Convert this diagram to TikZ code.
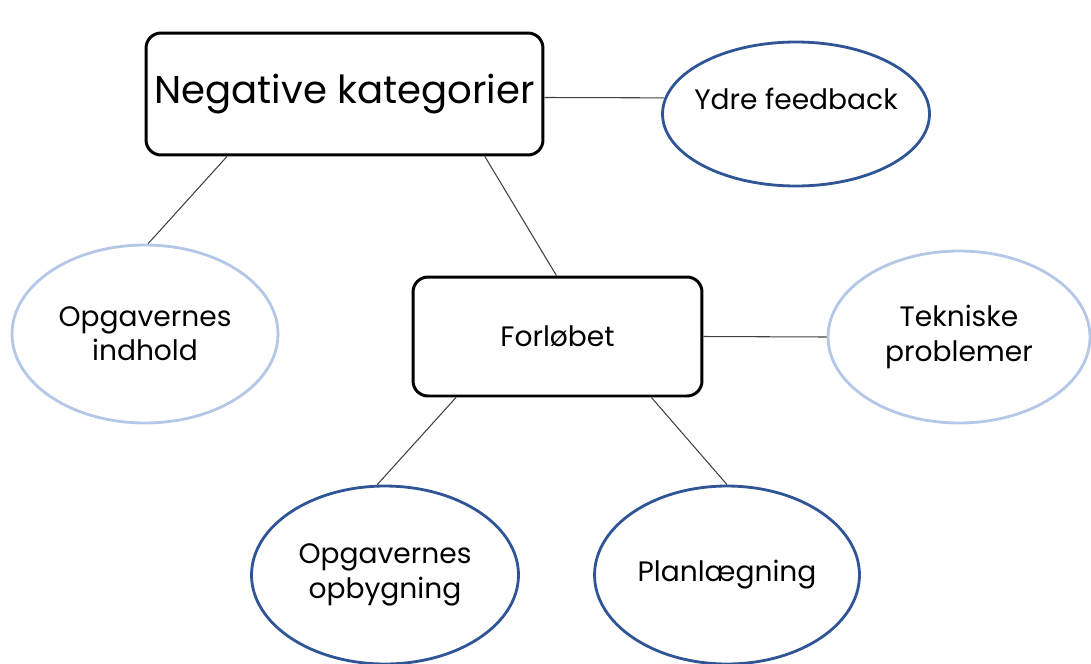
\documentclass[tikz,border=0pt]{standalone}
\usepackage{fontspec}
\setmainfont{Poppins}
\usepackage{tikz}
\usetikzlibrary{shapes.geometric}

\definecolor{darkblue}{HTML}{2F5597}
\definecolor{lightblue}{HTML}{B4C7E7}
\definecolor{linegray}{HTML}{404040}

\begin{document}
\begin{tikzpicture}[
        x=0.02cm, y=-0.02cm,          % pixel-like units, y downwards
        every node/.style={
            inner sep=0pt,
            align=center,
            font=\fontsize{16}{19.5}\selectfont
        },
        box/.style={rectangle, rounded corners=0.3cm, draw=black, line width=1.7pt},
        oval/.style={ellipse, draw=darkblue, line width=1.6pt, inner xsep=-1cm, inner ysep=-0.3cm},
        paleoval/.style={oval, draw=lightblue},
        link/.style={draw=linegray, line width=0.6pt}
    ]
        \useasboundingbox (0,0) rectangle (1091,663);

        % boxes
        \node[box, minimum width=7.94cm, minimum height=2.44cm,
              font=\fontsize{22}{26}\selectfont] (neg) at (344.5,94) {Negative kategorier};
        \node[box, minimum width=5.78cm, minimum height=2.38cm] (forlob) at (557.5,336.5) {Forløbet};

        % ovals
        \node[oval, minimum width=5.34cm, minimum height=2.88cm, text depth=0.6cm] (ydre) at (796,114) {Ydre feedback};
        \node[paleoval, minimum width=5.32cm, minimum height=3.56cm] (indhold) at (145,334) {Opgavernes\\indhold};
        \node[paleoval, minimum width=5.24cm, minimum height=3.44cm] (tekn) at (959,337) {Tekniske\\problemer};
        \node[oval, minimum width=5.34cm, minimum height=3.56cm] (opbyg) at (385,575) {Opgavernes\\opbygning};
        \node[oval, minimum width=5.30cm, minimum height=3.56cm] (plan) at (727,575) {Planlægning};

        % links
        \draw[link] (neg.-1.5) -- (ydre.173.5);
        \draw[link] (neg.208) -- (indhold.88);
        \draw[link] (neg.-24.5) -- (forlob.91);
        \draw[link] (forlob.east) -- (tekn.west);
        \draw[link] (forlob.211) -- (opbyg.95);
        \draw[link] (forlob.-33.6) -- (plan.north);
    \end{tikzpicture}
\end{document}
